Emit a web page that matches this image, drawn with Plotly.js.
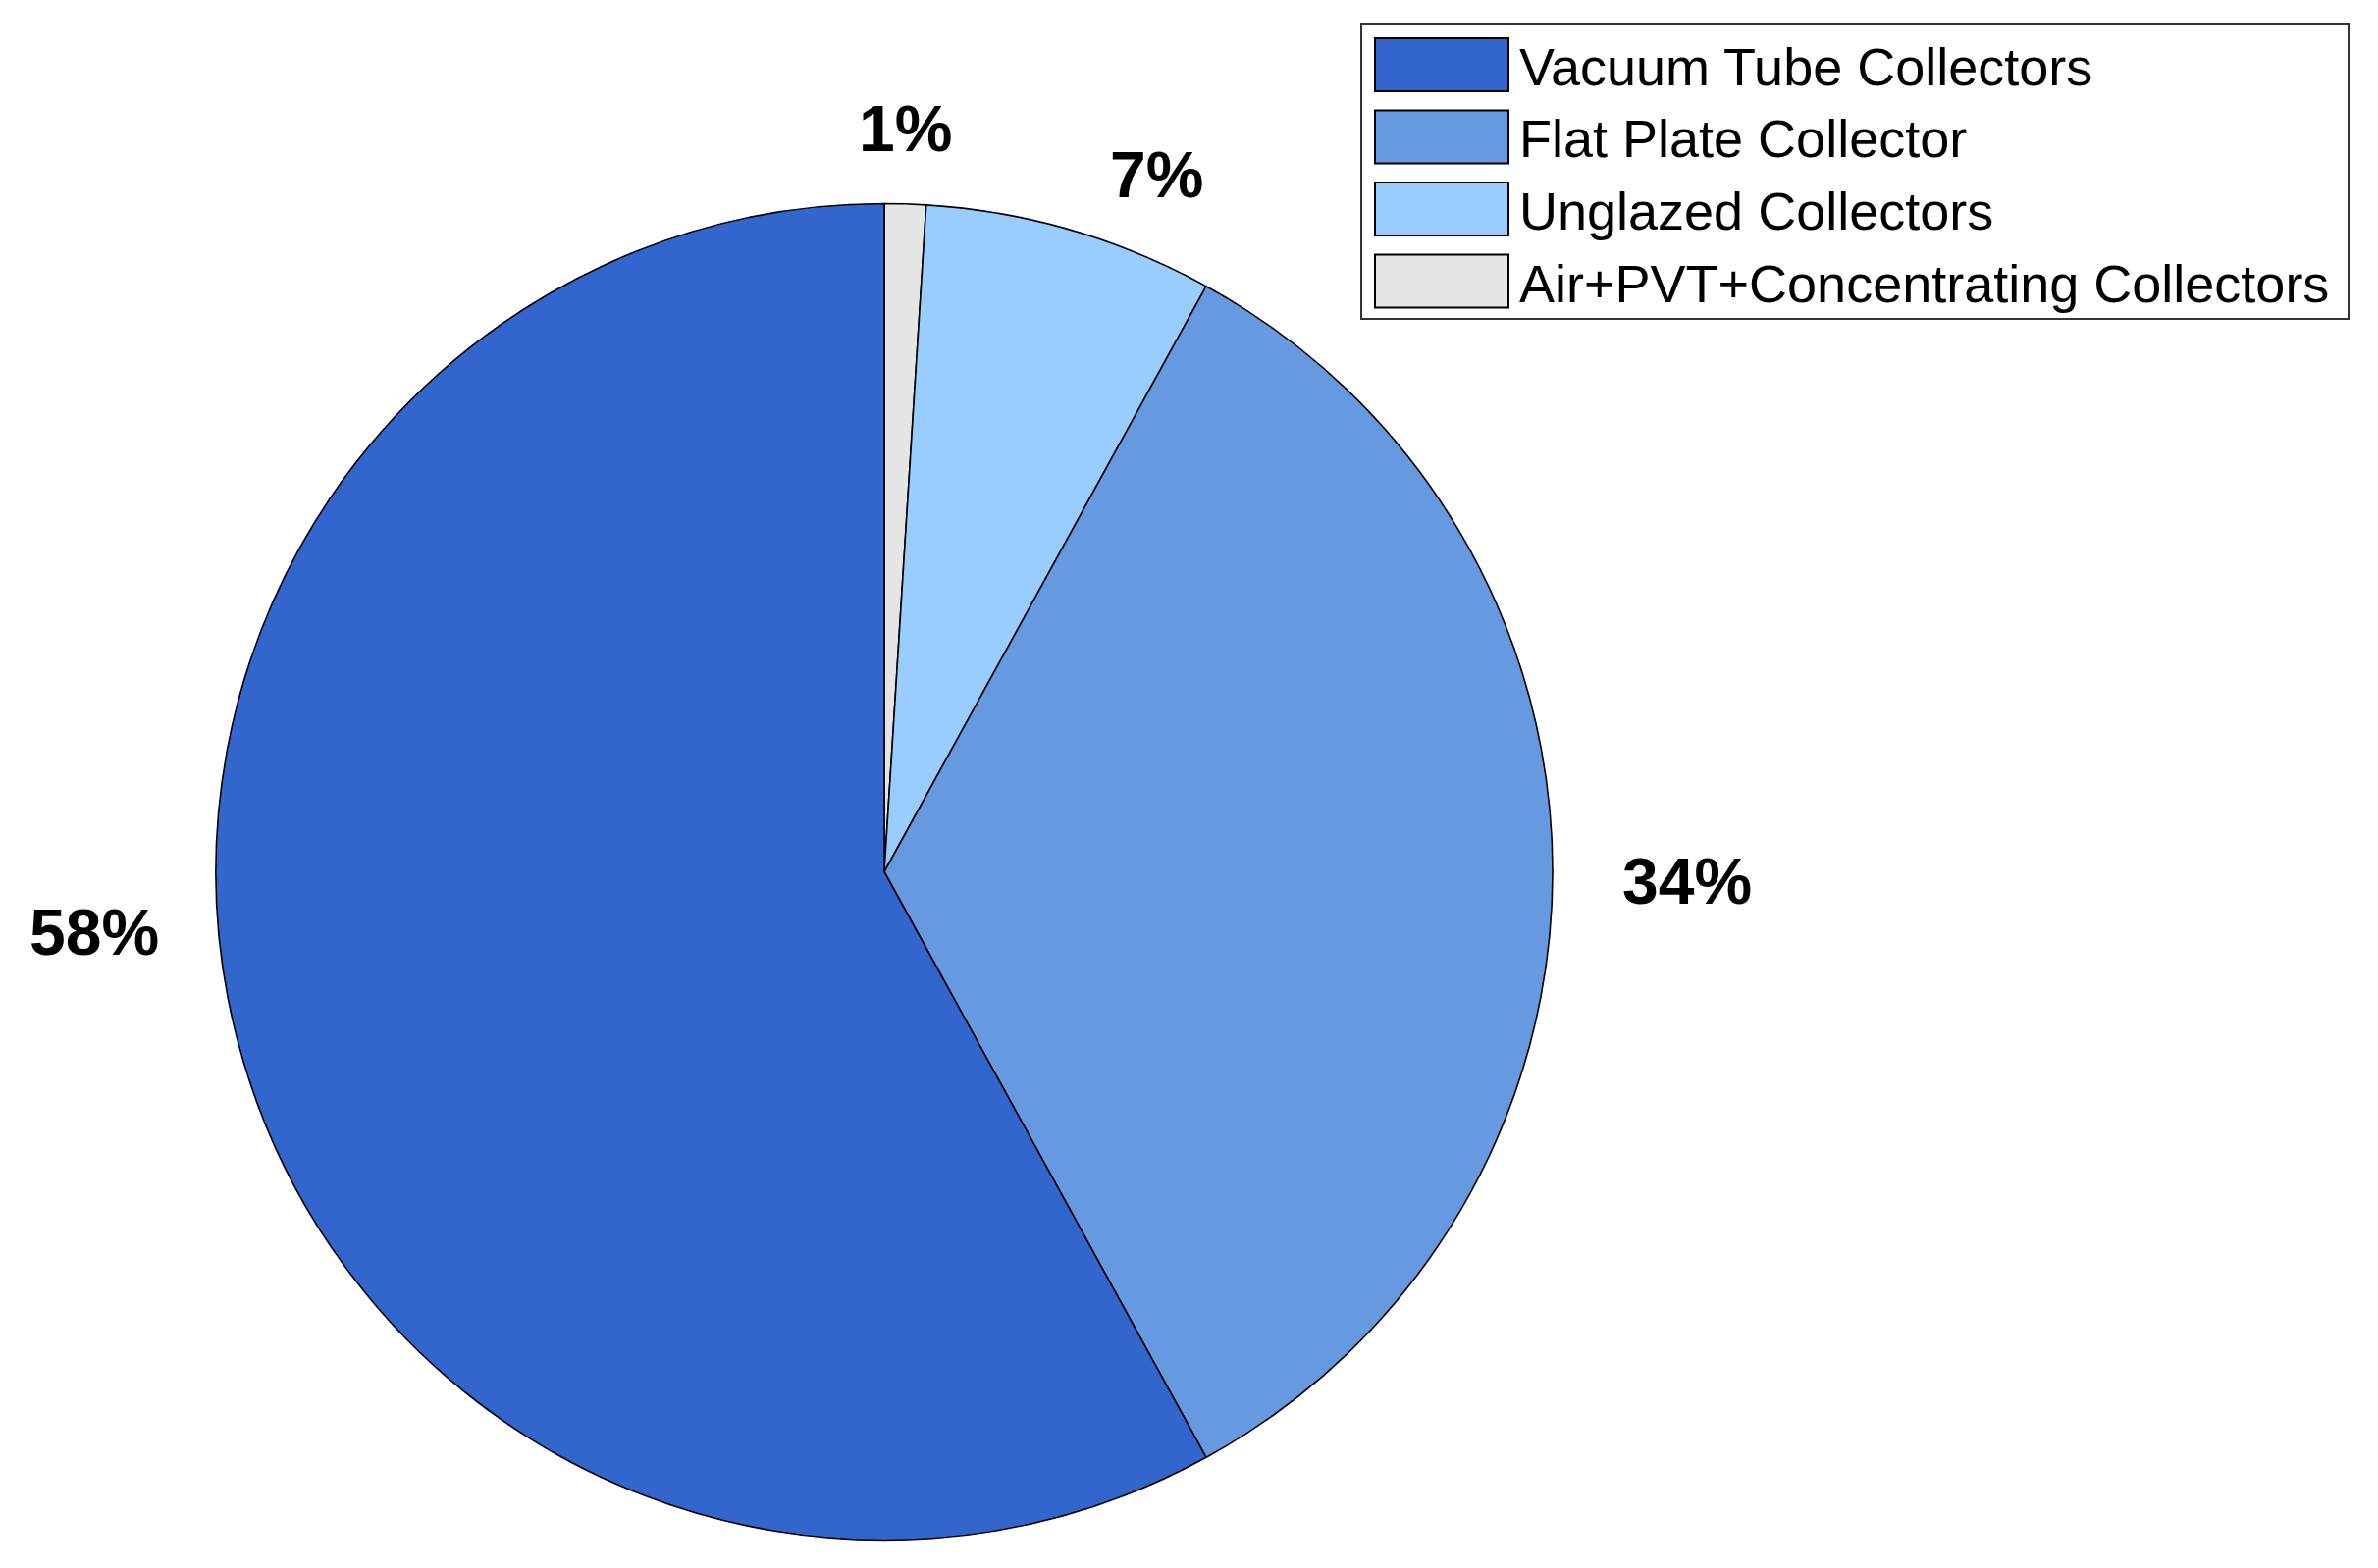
<!DOCTYPE html>
<html>
<head>
<meta charset="utf-8">
<script src="https://cdn.plot.ly/plotly-3.0.1.min.js"></script>
<style>html,body{margin:0;padding:0;background:#fff;}#chart{width:2423px;height:1598px;}</style>
</head>
<body>
<div id="chart"></div>
<script>
// ---- data ----
const categories = ["Vacuum Tube Collectors", "Flat Plate Collector", "Unglazed Collectors", "Air+PVT+Concentrating Collectors"];
const shares = [58, 34, 7, 1];
const colors = ["#3366CC", "#6699E0", "#99CCFF", "#E5E5E5"];

// ---- layout helpers (pixel positions of the label/legend layout) ----
const W = 2423, H = 1598;
const px = x => x / W;
const py = y => 1 - y / H;
const labelPos = [[96, 950], [1719, 898], [1178, 178], [922, 131]];

const total = shares.reduce((a, b) => a + b, 0);

// slices drawn clockwise from 12 o'clock starting with the last category
const rev = a => a.slice().reverse();
const trace = {
  type: "pie",
  labels: rev(categories),
  values: rev(shares),
  sort: false,
  direction: "clockwise",
  rotation: 0,
  textinfo: "none",
  hoverinfo: "label+percent",
  marker: { colors: rev(colors), line: { color: "#000000", width: 1.6 } },
  domain: { x: [px(220), px(1582)], y: [py(1569.5), py(207.5)] },
  showlegend: false
};

const annotations = shares.map((v, i) => ({
  xref: "paper", yref: "paper",
  x: px(labelPos[i][0]), y: py(labelPos[i][1]),
  xanchor: "center", yanchor: "middle",
  text: "<b>" + Math.round(v / total * 100) + "%</b>",
  showarrow: false,
  font: { family: "Liberation Sans, Arial, sans-serif", size: 66, color: "#000000" }
}));

// custom legend: box, swatches, texts
const shapes = [{
  type: "rect", xref: "paper", yref: "paper",
  x0: px(1387), x1: px(2393), y0: py(325), y1: py(24),
  line: { color: "#333333", width: 2 }, fillcolor: "#ffffff", layer: "above"
}];
const rowY = [66, 139.5, 213, 286.5];
categories.forEach((c, i) => {
  shapes.push({
    type: "rect", xref: "paper", yref: "paper",
    x0: px(1401), x1: px(1537), y0: py(rowY[i] + 27), y1: py(rowY[i] - 27),
    line: { color: "#000000", width: 2 }, fillcolor: colors[i], layer: "above"
  });
  annotations.push({
    xref: "paper", yref: "paper",
    x: px(1546), y: py(rowY[i] + 2),
    xanchor: "left", yanchor: "middle",
    text: c, showarrow: false,
    font: { family: "Liberation Sans, Arial, sans-serif", size: 54, color: "#000000" }
  });
});

const layout = {
  width: W, height: H,
  margin: { l: 0, r: 0, t: 0, b: 0 },
  paper_bgcolor: "#ffffff",
  plot_bgcolor: "#ffffff",
  showlegend: false,
  annotations: annotations,
  shapes: shapes
};

Plotly.newPlot("chart", [trace], layout, { displayModeBar: false, staticPlot: true });
</script>
</body>
</html>
